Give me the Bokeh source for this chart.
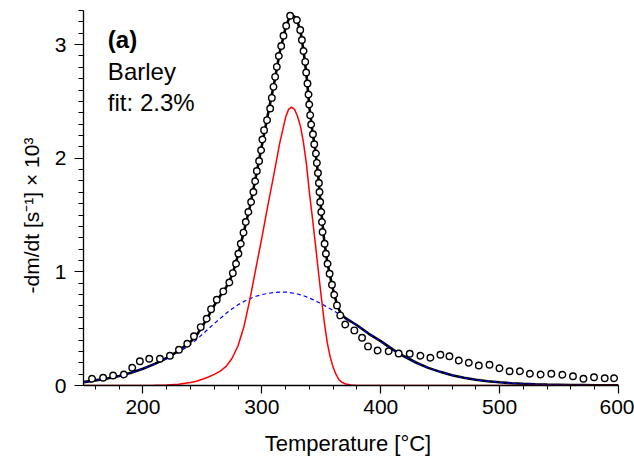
from bokeh.plotting import figure
from bokeh.models import Range1d, SingleIntervalTicker, Label
from bokeh.embed import file_html
from bokeh.resources import INLINE

# ---- measured data points (open circles) ----
obs_T = [157.2, 166.5, 174.9, 184.0, 191.0, 197.4, 205.3, 214.3, 222.7, 230.3,
         237.3, 242.9, 248.6, 253.6, 257.3, 262.1, 267.6, 272.7, 275.6, 278.3,
         280.3, 282.3, 284.6, 286.5, 288.7, 291.0, 292.9, 294.4, 295.8, 297.7,
         299.4, 300.5, 301.9, 304.4, 307.0, 308.4, 309.8, 311.2, 312.6, 314.3,
         316.3, 318.2, 320.5, 323.8, 329.5, 332.3, 333.7, 335.1, 336.5, 337.3,
         338.4, 339.3, 339.9, 340.7, 341.5, 343.0, 344.1, 345.5, 346.3, 347.2,
         348.0, 348.5, 349.1, 350.0, 350.6, 351.1, 352.8, 353.9, 355.3, 357.0,
         359.0, 360.9, 363.2, 366.0, 370.2, 377.8, 384.3, 389.3, 397.4, 406.7,
         415.1, 424.4, 433.4, 441.8, 450.2, 457.8, 465.7, 474.1, 482.5, 491.5,
         499.9, 508.4, 517.1, 525.5, 534.5, 543.5, 552.8, 561.7, 570.5, 579.4,
         588.4, 596.3]
obs_v = [0.059, 0.068, 0.088, 0.097, 0.156, 0.214, 0.235, 0.235, 0.262, 0.315,
         0.367, 0.434, 0.514, 0.588, 0.672, 0.755, 0.828, 0.907, 0.989, 1.072,
         1.160, 1.248, 1.345, 1.439, 1.527, 1.615, 1.703, 1.797, 1.888, 1.976,
         2.070, 2.165, 2.247, 2.335, 2.438, 2.531, 2.628, 2.716, 2.804, 2.899,
         2.987, 3.078, 3.166, 3.254, 3.216, 3.128, 3.040, 2.943, 2.848, 2.755,
         2.658, 2.561, 2.473, 2.379, 2.297, 2.211, 2.123, 2.041, 1.959, 1.870,
         1.782, 1.703, 1.615, 1.527, 1.439, 1.351, 1.248, 1.160, 1.072, 0.984,
         0.887, 0.799, 0.705, 0.617, 0.537, 0.485, 0.420, 0.344, 0.308, 0.302,
         0.282, 0.279, 0.262, 0.244, 0.270, 0.258, 0.220, 0.200, 0.176, 0.182,
         0.152, 0.126, 0.126, 0.103, 0.097, 0.103, 0.094, 0.082, 0.059, 0.073,
         0.064, 0.064]

# ---- fit curves ----
fit_T = [150, 160, 170, 180, 190, 200, 210, 220, 230, 240,
         245, 250, 255, 260, 265, 270, 275, 280, 285, 290,
         295, 300, 305, 310, 315, 320, 322.5, 325, 327.5, 330,
         332.5, 335, 337.5, 340, 342.5, 345, 347.5, 350, 352.5, 355,
         357.5, 360, 362.5, 365, 367.5, 370, 375, 380, 390, 400,
         410, 420, 430, 440, 450, 460, 470, 480, 490, 500,
         510, 520, 530, 540, 550, 560, 570, 580, 590, 600]
fit_total = [0.030, 0.045, 0.062, 0.083, 0.112, 0.148, 0.190, 0.242, 0.305, 0.385,
             0.440, 0.520, 0.610, 0.705, 0.790, 0.865, 0.970, 1.150, 1.360, 1.575,
             1.840, 2.110, 2.380, 2.640, 2.930, 3.150, 3.220, 3.258, 3.245, 3.200,
             3.120, 2.950, 2.740, 2.450, 2.240, 2.070, 1.840, 1.530, 1.270, 1.090,
             0.960, 0.840, 0.740, 0.665, 0.620, 0.595, 0.563, 0.530, 0.455, 0.390,
             0.318, 0.255, 0.200, 0.155, 0.120, 0.090, 0.068, 0.050, 0.038, 0.028,
             0.020, 0.015, 0.011, 0.008, 0.006, 0.004, 0.003, 0.002, 0.001, 0.001]
comp_narrow = [0.0, 0.0, 0.0, 0.0, 0.0, 0.0, 0.002, 0.005, 0.012, 0.026,
               0.038, 0.055, 0.075, 0.098, 0.127, 0.168, 0.240, 0.350, 0.520, 0.760,
               1.030, 1.300, 1.580, 1.850, 2.130, 2.360, 2.430, 2.450, 2.430, 2.370,
               2.280, 2.140, 1.950, 1.700, 1.480, 1.250, 1.010, 0.780, 0.560, 0.380,
               0.250, 0.160, 0.095, 0.050, 0.028, 0.015, 0.004, 0.001, 0.0, 0.0,
               0.0, 0.0, 0.0, 0.0, 0.0, 0.0, 0.0, 0.0, 0.0, 0.0,
               0.0, 0.0, 0.0, 0.0, 0.0, 0.0, 0.0, 0.0, 0.0, 0.0]
comp_broad = [0.030, 0.045, 0.062, 0.083, 0.112, 0.148, 0.188, 0.236, 0.292, 0.360,
              0.405, 0.450, 0.498, 0.545, 0.590, 0.635, 0.675, 0.710, 0.740, 0.765,
              0.785, 0.800, 0.810, 0.818, 0.821, 0.822, 0.820, 0.815, 0.811, 0.805,
              0.798, 0.790, 0.780, 0.770, 0.758, 0.745, 0.733, 0.720, 0.705, 0.690,
              0.675, 0.660, 0.645, 0.630, 0.615, 0.600, 0.563, 0.530, 0.455, 0.390,
              0.318, 0.255, 0.200, 0.155, 0.120, 0.090, 0.068, 0.050, 0.038, 0.028,
              0.020, 0.015, 0.011, 0.008, 0.006, 0.004, 0.003, 0.002, 0.001, 0.001]

x_ticks_interval = 100
y_ticks_interval = 1
panel_label = "(a)"
sample_name = "Barley"
fit_text = "fit: 2.3%"
x_title = "Temperature  [°C]"
y_title = "-dm/dt  [s\u207b\u00b9]  \u00d7 10\u00b3"

FONT = "Liberation Sans"

p = figure(width=634, height=458, output_backend="svg", toolbar_location=None,
           x_range=Range1d(150, 600), y_range=Range1d(0, 3.3),
           min_border_left=83, min_border_right=16, min_border_top=10,
           min_border_bottom=73)
p.outline_line_color = None
p.grid.visible = False
p.background_fill_color = "white"

p.line(fit_T, fit_total, line_color="black", line_width=2.6)
p.line(fit_T, comp_broad, line_color="#0000ff", line_width=1.2, line_dash="4 3")
p.line(fit_T, comp_narrow, line_color="#ff0000", line_width=1.5)
p.scatter(obs_T, obs_v, marker="circle", size=6.5, fill_color="white",
          line_color="black", line_width=1.4)

for ax in (p.xaxis[0], p.yaxis[0]):
    ax.axis_line_color = "black"
    ax.axis_line_width = 1.3
    ax.major_tick_line_color = "black"
    ax.minor_tick_line_color = "black"
    ax.major_tick_line_width = 1.2
    ax.minor_tick_line_width = 1.0
    ax.major_tick_in = 0
    ax.minor_tick_in = 0
    ax.major_label_text_font = FONT
    ax.major_label_text_font_size = "21px"
    ax.major_label_text_color = "black"
    ax.axis_label_text_font = FONT
    ax.axis_label_text_font_size = "21px"
    ax.axis_label_text_font_style = "normal"
    ax.axis_label_text_color = "black"

p.xaxis.axis_label_text_font_size = "22px"
p.xaxis.ticker = SingleIntervalTicker(interval=x_ticks_interval, num_minor_ticks=5)
p.yaxis.ticker = SingleIntervalTicker(interval=y_ticks_interval, num_minor_ticks=10)
p.xaxis.major_tick_out = 8
p.xaxis.minor_tick_out = 4
p.yaxis.major_tick_out = 9
p.yaxis.minor_tick_out = 5
p.xaxis.major_label_standoff = 6
p.yaxis.major_label_standoff = 8
p.xaxis.axis_label = x_title
p.xaxis.axis_label_standoff = 14
# trailing no-break spaces push the rotated title slightly down, as in the original
p.yaxis.axis_label = y_title + "\u00a0" * 4
p.yaxis.axis_label_standoff = 9

p.add_layout(Label(x=170.5, y=3.044, text=panel_label, text_font=FONT,
                   text_font_size="24px", text_font_style="bold",
                   text_color="black", text_baseline="alphabetic"))
p.add_layout(Label(x=170.5, y=2.765, text=sample_name, text_font=FONT,
                   text_font_size="24px", text_color="black",
                   text_baseline="alphabetic"))
p.add_layout(Label(x=170.5, y=2.494, text=fit_text, text_font=FONT,
                   text_font_size="24px", text_color="black",
                   text_baseline="alphabetic"))

open("out.html", "w").write(file_html(p, INLINE))
